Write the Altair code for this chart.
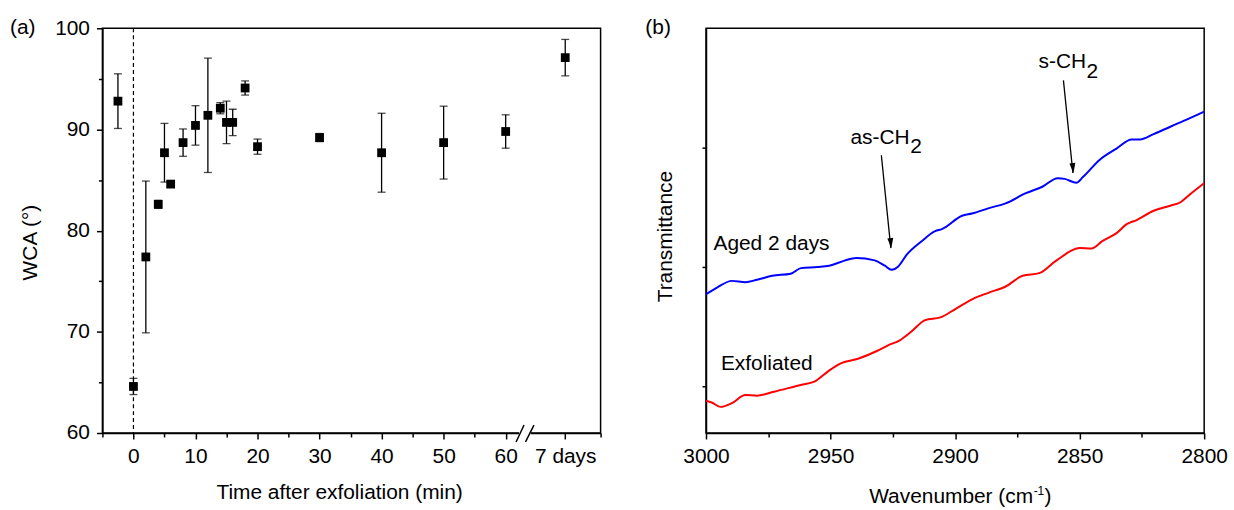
import altair as alt
import pandas as pd

FONT = "Liberation Sans"
FS = 21

# ---------------- Panel (a): water contact angle vs time ----------------
# time after exfoliation (min); the last point is "7 days", drawn past the axis break
time_pos = [-2.5, 0, 2, 4, 5, 6, 8, 10, 12, 14, 15, 16, 18, 20, 30, 40, 50, 60, 69.6]
wca = [92.8, 64.6, 77.4, 82.6, 87.7, 84.6, 88.7, 90.4, 91.4, 92.1, 90.7, 90.7, 94.1, 88.3, 89.2, 87.7, 88.7, 89.8, 97.1]
wca_err = [2.7, 0.8, 7.5, 0.4, 2.9, 0.3, 1.35, 1.95, 5.65, 0.55, 2.1, 1.3, 0.7, 0.75, 0.4, 3.9, 3.6, 1.65, 1.8]
x_a_ticks = [-5, 0, 5, 10, 15, 20, 25, 30, 35, 40, 45, 50, 55, 60, 69.6, 75.3]
y_a_ticks = [60, 65, 70, 75, 80, 85, 90, 95, 100]

# ---------------- Panel (b): FTIR spectra ----------------
blue_wn = [3000, 2995.6, 2989.6, 2984.2, 2979.5, 2973.4, 2966.0, 2961.9, 2955.2, 2950.5, 2944.4, 2939.7,
           2932.3, 2928.2, 2925.5, 2922.8, 2919.4, 2913.4, 2908.0, 2905.3, 2897.2, 2893.2, 2886.4, 2879.7,
           2871.6, 2864.8, 2858.8, 2856.0, 2851.3, 2848.7, 2841.9, 2835.2, 2829.1, 2825.7, 2820.3, 2813.6,
           2806.8, 2800]
blue_T = [0.771, 0.827, 0.883, 0.872, 0.892, 0.926, 0.943, 0.990, 0.999, 1.010, 1.053, 1.075,
          1.055, 1.010, 0.976, 1.004, 1.103, 1.216, 1.300, 1.317, 1.429, 1.448, 1.493, 1.533,
          1.618, 1.674, 1.744, 1.738, 1.705, 1.753, 1.899, 1.992, 2.068, 2.068, 2.113, 2.175,
          2.237, 2.302]
red_wn = [3000, 2997.7, 2994.1, 2989.6, 2984.2, 2979.5, 2972.7, 2961.9, 2956.5, 2951.1, 2945.7, 2939.0,
          2931.6, 2926.9, 2922.2, 2917.4, 2912.0, 2905.9, 2899.9, 2891.8, 2886.4, 2879.7, 2872.9, 2866.2,
          2859.4, 2850.0, 2845.3, 2840.6, 2835.2, 2831.1, 2827.1, 2820.3, 2813.6, 2809.5, 2805.5, 2800]
red_T = [-0.122, -0.136, -0.173, -0.142, -0.074, -0.079, -0.046, 0.011, 0.038, 0.123, 0.193, 0.230,
         0.293, 0.343, 0.385, 0.461, 0.554, 0.577, 0.647, 0.743, 0.785, 0.836, 0.926, 0.948,
         1.053, 1.158, 1.154, 1.221, 1.283, 1.358, 1.393, 1.471, 1.513, 1.542, 1.612, 1.702]
series_names = ["Aged 2 days", "Exfoliated"]
series_colors = ["#0000FF", "#FF0000"]
x_b_ticks = [3000, 2975, 2950, 2925, 2900, 2875, 2850, 2825, 2800]
y_b_ticks = [0, 1, 2]

label_text = ["Aged 2 days", "Exfoliated", "as-CH", "2", "s-CH", "2"]
label_wn = [2997.0, 2994.0, 2942.0, 2918.0, 2866.5, 2847.2]
label_T = [1.142, 0.135, 2.028, 1.958, 2.665, 2.58]

arrow_wn = [2929.6, 2856.5]
arrow_T = [1.936, 2.563]
arrow_wn2 = [2925.8, 2852.7]
arrow_T2 = [1.158, 1.787]

W, H = 501, 407

def cond_size(test, major, minor):
    return {"condition": {"test": test, "value": major}, "value": minor}

axis_common = dict(grid=False, domainColor="black", domainWidth=1.5, tickColor="black", tickWidth=1.5,
                   labelColor="black", labelFont=FONT, labelFontSize=FS, titleFont=FONT,
                   titleFontSize=FS, titleColor="black", titleFontWeight="normal",
                   labelFlush=False, labelOverlap=False)

# ---- panel a ----
dfa = pd.DataFrame({"t": time_pos, "wca": wca, "err": wca_err})
dfa["lo"] = dfa["wca"] - dfa["err"]
dfa["hi"] = dfa["wca"] + dfa["err"]

xs_a = alt.Scale(domain=[-5, 75.3], nice=False, zero=False)
ys_a = alt.Scale(domain=[60, 100], nice=False, zero=False)

x_axis_a = alt.Axis(
    values=x_a_ticks,
    labelExpr="datum.value % 10 === 0 ? datum.label : ((datum.value > 65 && datum.value < 70) ? '7 days' : '')",
    tickSize=cond_size("datum.value % 10 === 0 || (datum.value > 65 && datum.value < 70)", 6, 4),
    labelPadding=7,
    title="Time after exfoliation (min)", titleX=238, titleY=66, titleBaseline="alphabetic",
    titleAlign="center", titleAnchor="middle",
    **axis_common)
y_axis_a = alt.Axis(
    values=y_a_ticks,
    labelExpr="datum.value % 10 === 0 ? datum.label : ''",
    tickSize=cond_size("datum.value % 10 === 0", 6, 4),
    labelPadding=7,
    title="WCA (°)", titleX=-66, titleY=215, titleBaseline="alphabetic", titleAngle=270,
    titleAlign="center",
    **axis_common)

XA = lambda f: alt.X(f, type="quantitative", scale=xs_a, axis=x_axis_a)
YA = lambda f: alt.Y(f, type="quantitative", scale=ys_a, axis=y_axis_a)

base_a = alt.Chart(dfa)
pts = base_a.mark_square(size=78, color="black", opacity=1).encode(x=XA("t"), y=YA("wca"))
bars = base_a.mark_rule(color="black", strokeWidth=1.3).encode(x=XA("t"), y=YA("lo"), y2="hi:Q")
cap_lo = base_a.mark_tick(color="black", orient="horizontal", size=8, thickness=1.3).encode(
    x=XA("t"), y=YA("lo"))
cap_hi = base_a.mark_tick(color="black", orient="horizontal", size=8, thickness=1.3).encode(
    x=XA("t"), y=YA("hi"))
zero_line = alt.Chart(pd.DataFrame({"t": [0]})).mark_rule(
    color="black", strokeDash=[4, 3], strokeWidth=1.2).encode(x=XA("t"))

one = pd.DataFrame({"k": [0]})
gap = alt.Chart(one).mark_rect(color="white").encode(
    x=alt.value(419), x2=alt.value(431), y=alt.value(403), y2=alt.value(411))
slash1 = alt.Chart(one).mark_rule(color="black", strokeWidth=1.5).encode(
    x=alt.value(416), x2=alt.value(424), y=alt.value(416), y2=alt.value(399))
slash2 = alt.Chart(one).mark_rule(color="black", strokeWidth=1.5).encode(
    x=alt.value(425.5), x2=alt.value(434), y=alt.value(416), y2=alt.value(399))
lab_a = alt.Chart(pd.DataFrame({"l": ["(a)"]})).mark_text(
    align="left", baseline="alphabetic", font=FONT, fontSize=FS, color="black").encode(
    x=alt.value(-93), y=alt.value(6), text="l:N")

panel_a = alt.layer(zero_line, bars, cap_lo, cap_hi, pts, gap, slash1, slash2, lab_a).properties(
    width=W, height=H)

# ---- panel b ----
dfb = pd.concat([
    pd.DataFrame({"wn": blue_wn, "T": blue_T, "s": series_names[0]}),
    pd.DataFrame({"wn": red_wn, "T": red_T, "s": series_names[1]}),
])
xs_b = alt.Scale(domain=[2800, 3000], reverse=True, nice=False, zero=False)
ys_b = alt.Scale(domain=[-0.392, 3.0], nice=False, zero=False)

x_axis_b = alt.Axis(
    values=x_b_ticks,
    labelExpr="datum.value % 50 === 0 ? format(datum.value, 'd') : ''",
    tickSize=cond_size("datum.value % 50 === 0", 6, 4),
    labelPadding=7, title=None, **axis_common)
y_axis_b = alt.Axis(
    values=y_b_ticks, labels=False, tickSize=4,
    title="Transmittance", titleX=-35, titleY=209, titleBaseline="alphabetic", titleAngle=270,
    titleAlign="center", **axis_common)

XB = lambda f: alt.X(f, type="quantitative", scale=xs_b, axis=x_axis_b)
YB = lambda f: alt.Y(f, type="quantitative", scale=ys_b, axis=y_axis_b)

lines = alt.Chart(dfb).mark_line(strokeWidth=2, interpolate="monotone").encode(
    x=XB("wn"), y=YB("T"),
    color=alt.Color("s:N", scale=alt.Scale(domain=series_names, range=series_colors), legend=None),
    detail="s:N")

dfl = pd.DataFrame({"wn": label_wn, "T": label_T, "txt": label_text})
labels = alt.Chart(dfl).mark_text(align="left", baseline="alphabetic", font=FONT, fontSize=FS,
                                  color="black").encode(x=XB("wn"), y=YB("T"), text="txt:N")

dfarr = pd.DataFrame({"wn": arrow_wn, "T": arrow_T, "wn2": arrow_wn2, "T2": arrow_T2})
arrows = alt.Chart(dfarr).mark_rule(color="black", strokeWidth=1.3).encode(
    x=XB("wn"), y=YB("T"), x2="wn2:Q", y2="T2:Q")
heads = alt.Chart(dfarr).mark_point(shape="M-0.6,-1L0.6,-1L0,1Z", filled=True, color="black",
                                    opacity=1, size=100, angle=354, yOffset=-5).encode(
    x=XB("wn2"), y=YB("T2"))

xt_main = alt.Chart(pd.DataFrame({"l": ["Wavenumber (cm"]})).mark_text(
    align="right", baseline="alphabetic", font=FONT, fontSize=FS, color="black").encode(
    x=alt.value(329), y=alt.value(477), text="l:N")
xt_sup = alt.Chart(pd.DataFrame({"l": ["-1"]})).mark_text(
    align="left", baseline="alphabetic", font=FONT, fontSize=12, color="black").encode(
    x=alt.value(329.5), y=alt.value(469), text="l:N")
xt_close = alt.Chart(pd.DataFrame({"l": [")"]})).mark_text(
    align="left", baseline="alphabetic", font=FONT, fontSize=FS, color="black").encode(
    x=alt.value(340.5), y=alt.value(477), text="l:N")
lab_b = alt.Chart(pd.DataFrame({"l": ["(b)"]})).mark_text(
    align="left", baseline="alphabetic", font=FONT, fontSize=FS, color="black").encode(
    x=alt.value(-61), y=alt.value(6), text="l:N")

panel_b = alt.layer(lines, arrows, heads, labels, xt_main, xt_sup, xt_close, lab_b).properties(
    width=W, height=H)

chart = alt.hconcat(panel_a, panel_b, spacing=42).properties(
    padding={"left": 9, "top": 15, "right": 5, "bottom": 5},
    background="white",
).configure_view(stroke="black", strokeWidth=1.5)

chart.save("out.html", embed_options={"renderer": "svg", "actions": False})
